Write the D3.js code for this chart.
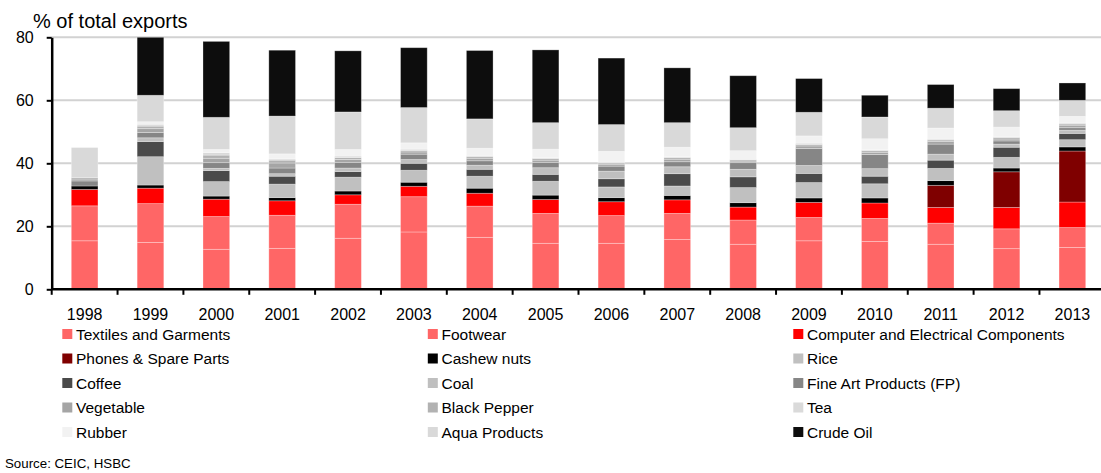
<!DOCTYPE html>
<html>
<head>
<meta charset="utf-8">
<script src="https://cdn.jsdelivr.net/npm/d3@7"></script>
<style>
  body { margin: 0; background: #fff; }
  svg { display: block; font-family: "Liberation Sans", Arial, sans-serif; }
</style>
</head>
<body>
<div id="chart"></div>
<script>
const years = ['1998','1999','2000','2001','2002','2003','2004','2005','2006','2007','2008','2009','2010','2011','2012','2013'];
const yTicks = [0, 20, 40, 60, 80];

// % of total exports
const textiles  = [15.4, 14.9, 12.7, 13.0, 16.2, 18.2, 16.5, 14.6, 14.6, 15.8, 14.3, 15.4, 15.2, 14.3, 12.9, 13.3];
const footwear  = [11.1, 12.3, 10.4, 10.5, 10.8, 11.2, 9.9, 9.5, 8.8, 8.3, 7.7, 7.4, 7.3, 6.7, 6.3, 6.3];
const computer  = [5.2, 4.9, 5.5, 4.6, 3.0, 3.3, 4.1, 4.4, 4.4, 4.3, 4.1, 4.8, 4.9, 5.0, 6.8, 8.1];
const phones    = [0, 0, 0, 0, 0, 0, 0, 0, 0, 0, 0, 0, 0, 7.0, 11.3, 16.2];
const cashew    = [1.1, 1.0, 1.0, 1.0, 1.2, 1.3, 1.6, 1.4, 1.3, 1.4, 1.4, 1.4, 1.6, 1.5, 1.2, 1.3];
const rice      = [0, 9.0, 4.6, 4.3, 4.4, 3.8, 3.8, 4.4, 3.4, 3.0, 4.8, 4.9, 4.5, 3.9, 3.4, 2.3];
const coffee    = [0, 4.8, 3.5, 2.5, 1.8, 2.2, 2.2, 2.2, 2.6, 3.9, 3.4, 2.9, 2.4, 2.6, 3.2, 2.0];
const coal      = [0, 1.2, 0.7, 0.8, 1.1, 1.2, 1.3, 2.1, 2.4, 2.2, 2.4, 2.5, 2.4, 1.9, 1.0, 1.0];
const fineArt   = [1.6, 1.7, 1.8, 1.8, 1.8, 1.7, 1.4, 1.7, 1.6, 1.6, 2.1, 5.4, 4.5, 3.2, 1.0, 0.8];
const vegetable = [0.6, 1.2, 1.4, 1.6, 0.9, 0.7, 0.8, 0.7, 0.6, 0.8, 0.5, 0.8, 0.7, 0.8, 0.6, 0.8];
const pepper    = [0.5, 0.8, 1.0, 0.9, 0.6, 0.5, 0.5, 0.5, 0.4, 0.5, 0.4, 0.5, 0.5, 0.5, 0.5, 0.4];
const tea       = [0, 0.6, 0.8, 0.4, 0.5, 0.4, 0.4, 0.3, 0.3, 0.3, 0.2, 0.4, 0.3, 0.3, 0.3, 0.3];
const rubber    = [0, 0.8, 1.0, 1.6, 2.1, 2.0, 2.3, 2.7, 3.4, 3.0, 2.7, 2.3, 3.5, 3.5, 3.0, 2.1];
const aqua      = [9.5, 8.4, 10.2, 12.0, 11.9, 11.2, 9.3, 8.4, 8.5, 7.8, 7.3, 7.5, 6.9, 6.3, 5.2, 5.1];
const crudeOil  = [0, 18.4, 24.1, 20.9, 19.4, 19.0, 21.7, 23.1, 21.1, 17.4, 16.5, 10.7, 6.9, 7.5, 7.0, 5.5];

const seriesNames = ['Textiles and Garments', 'Footwear', 'Computer and Electrical Components',
  'Phones & Spare Parts', 'Cashew nuts', 'Rice', 'Coffee', 'Coal', 'Fine Art Products (FP)',
  'Vegetable', 'Black Pepper', 'Tea', 'Rubber', 'Aqua Products', 'Crude Oil'];
const seriesValues = [textiles, footwear, computer, phones, cashew, rice, coffee, coal, fineArt,
  vegetable, pepper, tea, rubber, aqua, crudeOil];
const seriesColors = ['#ff6666', '#ff6666', '#ff0000', '#7f0000', '#000000', '#c0c0c0', '#4a4a4a',
  '#bfbfbf', '#868686', '#a5a5a5', '#b2b2b2', '#dadada', '#f2f2f2', '#d9d9d9', '#0d0d0d'];

const W = 1101, H = 473;
const x0 = 51.7, step = 65.85;
const axisY = 289.3, topY = 37.3;

const svg = d3.select('#chart').append('svg')
  .attr('width', W)
  .attr('height', H);

const x = d3.scaleBand()
  .domain(years)
  .range([x0, x0 + step * years.length])
  .paddingInner(0.595)
  .paddingOuter(0.2975);

const y = d3.scaleLinear()
  .domain([0, 80])
  .range([axisY, topY]);

const table = years.map((yr, i) => {
  const row = {year: yr};
  seriesNames.forEach((n, j) => { row[n] = seriesValues[j][i]; });
  return row;
});
const stacked = d3.stack().keys(seriesNames)(table);

// gridlines
svg.append('g')
  .selectAll('line')
  .data(yTicks.filter(d => d > 0))
  .join('line')
    .attr('x1', x0)
    .attr('x2', W)
    .attr('y1', d => y(d))
    .attr('y2', d => y(d))
    .attr('stroke', '#d2d2d2')
    .attr('stroke-width', 2);

// bars
svg.append('g')
  .selectAll('g')
  .data(stacked)
  .join('g')
    .attr('fill', (d, i) => seriesColors[i])
  .selectAll('rect')
  .data(d => d.filter(s => s[1] - s[0] > 0))
  .join('rect')
    .attr('x', d => x(d.data.year))
    .attr('width', x.bandwidth())
    .attr('y', d => y(d[1]))
    .attr('height', d => y(d[0]) - y(d[1]))
    .attr('stroke', '#ffffff')
    .attr('stroke-opacity', 0.35)
    .attr('stroke-width', 0.8);

// y axis
const yAxis = svg.append('g')
  .attr('transform', `translate(${x0},0)`)
  .call(d3.axisLeft(y)
    .tickValues(yTicks)
    .tickSize(5)
    .tickSizeOuter(0)
    .tickPadding(13));
yAxis.select('.domain').attr('stroke', '#000').attr('stroke-width', 2.5);
yAxis.selectAll('.tick line').attr('stroke', '#000').attr('stroke-width', 2);
yAxis.selectAll('text')
  .attr('font-size', 16)
  .attr('font-family', '"Liberation Sans", Arial, sans-serif')
  .attr('fill', '#000');

// x axis
const xAxis = svg.append('g')
  .attr('transform', `translate(0,${axisY})`)
  .call(d3.axisBottom(x)
    .tickSize(0)
    .tickPadding(19.5));
xAxis.select('.domain').remove();
xAxis.selectAll('text')
  .attr('font-size', 16)
  .attr('font-family', '"Liberation Sans", Arial, sans-serif')
  .attr('fill', '#000');
xAxis.append('line')
  .attr('x1', x0)
  .attr('x2', W)
  .attr('stroke', '#000')
  .attr('stroke-width', 2.5);
xAxis.selectAll('.boundary')
  .data(years)
  .join('line')
    .attr('class', 'boundary')
    .attr('x1', d => x(d) - (x.step() - x.bandwidth()) / 2)
    .attr('x2', d => x(d) - (x.step() - x.bandwidth()) / 2)
    .attr('y1', 0)
    .attr('y2', 5.5)
    .attr('stroke', '#000')
    .attr('stroke-width', 2);

// title
svg.append('text')
  .attr('x', 33)
  .attr('y', 28)
  .attr('font-size', 20)
  .text('% of total exports');

// legend: 3 columns, filled row by row
const legend = svg.append('g')
  .selectAll('g')
  .data(seriesNames)
  .join('g')
    .attr('transform', (d, i) => `translate(${62.3 + (i % 3) * 365.5},${334 + Math.floor(i / 3) * 24.5})`);
legend.append('rect')
  .attr('x', 0)
  .attr('y', -5)
  .attr('width', 10)
  .attr('height', 10)
  .attr('fill', (d, i) => seriesColors[i]);
legend.append('text')
  .attr('x', 13.7)
  .attr('y', 5.5)
  .attr('font-size', 15.5)
  .text(d => d);

svg.append('text')
  .attr('x', 5)
  .attr('y', 468)
  .attr('font-size', 13.3)
  .text('Source: CEIC, HSBC');
</script>
</body>
</html>
